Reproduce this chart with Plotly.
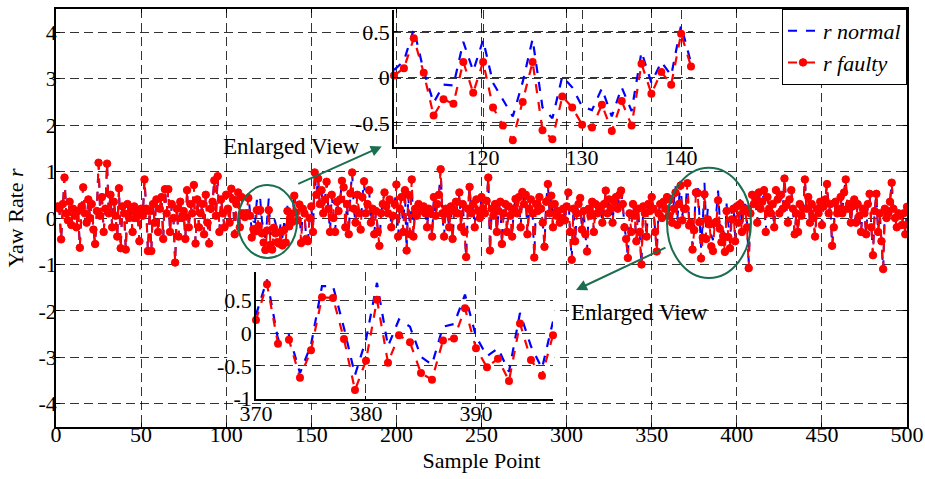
import plotly.graph_objects as go

FONT = "Liberation Serif"
GREEN = "#1b6e4e"

# ---------------- data ----------------
x_tick_vals = [0, 50, 100, 150, 200, 250, 300, 350, 400, 450, 500]
y_tick_vals = [-4, -3, -2, -1, 0, 1, 2, 3, 4]
y_tick_text = ["-4", "-3", "-2", "-1", "0", "1", "2", "3", "4"]
inset1_x_ticks = [120, 130, 140]
inset1_y_vals = [-0.5, 0, 0.5]
inset1_y_text = ["-0.5", "0", "0.5"]
inset2_x_ticks = [370, 380, 390]
inset2_y_vals = [-1, -0.5, 0, 0.5]
inset2_y_text = ["-1", "-0.5", "0", "0.5"]

r_faulty = [
    0.25, 0.2, -0.46, 0.3, 0.87, 0.1, -0.05, 0.35, -0.15, 0.2, 0.05, -0.2, 0.15, -0.64, 0.25, 0.66, 0.1, -0.1, 0.4, 0.0,
    0.3, -0.25, -0.56, 0.15, 1.19, 0.05, 0.45, -0.3, 0.2, 1.17, 0.1, 0.5, -0.2, 0.35, 0.05, -0.4, 0.64, -0.65, 0.25, 0.1,
    -0.68, 0.3, 0.0, 0.15, -0.3, 0.25, 0.0, 0.1, -0.5, 0.2, 0.05, 0.83, 0.2, -0.71, 0.15, -0.71, 0.3, -0.1, 0.4, -0.3,
    0.2, 0.45, -0.45, 0.62, 0.1, 0.62, -0.3, 0.3, 0.0, -0.96, 0.2, -0.4, 0.35, 0.0, 0.15, -0.45, 0.6, -0.2, 0.3, 0.1,
    0.71, -0.55, 0.4, -0.2, 0.1, 0.3, -0.35, 0.5, -0.1, -0.55, 0.2, 0.35, 0.81, 0.05, 0.9, -0.3, 0.4, 0.1, -0.2, 0.5,
    0.2, -0.1, 0.63, 0.4, -0.35, 0.3, 0.55, -0.2, 0.45, 0.1,
    0.02, 0.10, 0.43, 0.05, -0.42, -0.24, -0.29, 0.17, -0.17, 0.17,
    -0.33, -0.53, -0.69, -0.27, 0.17, -0.58, -0.68, -0.21, -0.33, -0.52,
    -0.55, -0.30, -0.59, -0.26, -0.53, 0.15, -0.18, 0.06, -0.08, 0.48,
    0.12, -0.05,
    0.29, -0.54, 0.2, 0.1, -0.45, -0.5, 0.0, 0.25, -0.3, 0.98, 0.5, 0.85, 0.3, 0.6, 0.1, 0.4, 0.78, 0.2,
    -0.3, 0.5, 0.0, -0.3, 0.35, 0.15, 0.4, 0.8, 0.66, -0.2, 0.3, -0.35, 0.53, 0.98, 0.2, -0.1, 0.5, 0.1, -0.25, 0.45,
    0.79, 0.1, 0.3, 0.6, -0.1, 0.2, -0.35, 0.15, -0.3, -0.6, 0.1, 0.3, 0.55, 0.25, 0.1, 0.4, -0.2, 0.05, 0.3, 0.72,
    -0.4, 0.2, 0.45, -0.3, 0.6, -0.7, 0.5, -0.35, 0.83, -0.4, 0.2, 0.05, 0.3, 0.21, 0.15, 0.25, 0.1, -0.2, 0.2, 0.1,
    -0.4, 0.45, 0.05, 0.3, 0.5, 1.05, 0.1, -0.4, 0.2, 0.1, -0.2, 0.25, -0.45, 0.15, 0.35, 0.1, 0.55, -0.2, 0.3, -0.3,
    -0.84, 0.2, 0.67, 0.1, 0.3, -0.2, 0.4, 0.15, 0.0, 0.45, 0.2, 0.1, 0.37, 0.87, -0.7, 0.2, 0.05, 0.3, -0.3, 0.15,
    0.35, -0.56, 0.1, 0.3, -0.3, 0.25, 0.05, -0.4, 0.2, 0.41, 0.1, 0.45, -0.2, 0.56, 0.3, 0.5, -0.35, 0.2, 0.4, 0.1,
    -0.85, 0.3, 0.15, 0.45, 0.2, -0.1, -0.62, 0.35, 0.73, 0.1, 0.48, -0.2, 0.3, 0.05, 0.15, -0.1, 0.0, 0.2, -0.05, 0.25,
    0.55, -0.3, -0.9, 0.2, -0.5, 0.1, 0.3, 0.43, -0.25, 0.15, -0.35, -0.72, 0.2, 0.05, 0.35, -0.3, 0.3, 0.1, 0.25, 0.2,
    -0.1, 0.3, 0.59, 0.1, 0.4, 0.2, -0.1, 0.35, 0.45, 0.2, 0.5, 0.59, 0.3, -0.2, -0.45, -0.86, 0.1, -0.3, 0.3, 0.05,
    -0.5, 0.2, -0.3, -1.0, 0.25, 0.1, -0.4, 0.3, 0.15, 0.45, 0.2, -0.3, -0.72, 0.1, 0.3, 0.0, 0.35, 0.2, 0.45, 0.05,
    0.4, -0.1, 0.2, 0.55, -0.15, 0.3, 0.7, -0.05, 0.2,
    0.20, 0.75, -0.16, -0.10, -0.68, -0.26, 0.55, 0.54, -0.09, -0.87,
    -0.42, 0.51, -0.45, -0.03, -0.14, -0.61, -0.71, -0.11, -0.08, 0.38,
    -0.23, -0.52, -0.39, -0.73, 0.15, -0.41, -0.65, -0.03,
    0.2, -0.5, 0.25, -0.1, 0.3, -0.3, 0.15, 0.2, -0.2, -1.08, 0.1, 0.5, 0.3, 0.4, -0.1, 0.55, 0.2, 0.35, 0.6, -0.3, 0.45, 0.2, 0.1,
    0.3, -0.2, 0.6, 0.4, 0.1, 0.5, 0.2, 0.85, 0.3, -0.1, 0.4, 0.6, 0.2, -0.35, 0.1, -0.3, 0.3, 0.05, 0.2, 0.83,
    0.2, 0.45, -0.1, 0.3, 0.0, -0.4, 0.2, 0.1, 0.35, -0.15, 0.25, 0.4, 0.73, 0.1, 0.3, -0.6, -0.2, 0.35, 0.1, 0.2,
    0.45, 0.1, 0.55, 0.83, 0.2, 0.3, -0.1, 0.25, 0.4, -0.1, 0.3, 0.05, -0.3, 0.2, 0.1, -0.35, 0.3, 0.52, -0.2, -0.8,
    0.15, 0.52, -0.3, 0.1, -0.5, -1.1, 0.2, 0.0, 0.1, 0.35, 0.76, 0.2, 0.0, -0.2, 0.1, 0.05, -0.15, 0.1, -0.35, 0.24,
]

# normal signal read where it separates from the faulty one (samples 111-142 and 360-408)
normal_seg_a = [
    0.08, 0.18, 0.53, 0.07, -0.28, -0.08, -0.09, 0.39, 0.07, 0.41,
    -0.06, -0.25, -0.43, -0.05, 0.42, -0.33, -0.45, 0.01, -0.11, -0.32,
    -0.36, -0.12, -0.43, -0.11, -0.37, 0.28, -0.06, 0.17, 0.02, 0.57,
    0.16, -0.02,
]
normal_seg_b = [
    0.12, 0.5, 0.0, 0.3, 0.68, -0.05, 0.42, 0.8, 0.05, 0.3,
    0.28, 0.82, -0.09, -0.03, -0.61, -0.18, 0.72, 0.72, 0.08, -0.64,
    -0.10, 0.77, -0.20, 0.21, 0.10, -0.36, -0.48, 0.10, 0.14, 0.59,
    -0.05, -0.35, -0.23, -0.59, 0.31, -0.20, -0.54, 0.18,
    0.3, -0.4, 0.35, 0.0, 0.4, -0.2, 0.25, 0.3, -0.1, -0.95, 0.2,
]
r_normal = r_faulty[:110] + normal_seg_a + r_faulty[142:359] + normal_seg_b + r_faulty[408:]
samples = list(range(1, len(r_faulty) + 1))

# ---------------- figure ----------------
fig = go.Figure()
blue = "#0000ff"
red = "#ff0000"
FS = 22

fig.add_trace(go.Scatter(x=samples, y=r_normal, mode="lines", name="<i>r normal</i>",
                         line=dict(color=blue, width=2, dash="dash")))
fig.add_trace(go.Scatter(x=samples, y=r_faulty, mode="lines+markers", name="<i>r faulty</i>",
                         line=dict(color=red, width=2, dash="dash"),
                         marker=dict(color=red, size=7.5, symbol="circle", line=dict(color=red, width=1))))

# inset 1 (samples 111-141)
s1 = slice(110, 141)
fig.add_trace(go.Scatter(x=samples[s1], y=r_normal[s1], mode="lines", showlegend=False,
                         line=dict(color=blue, width=2.2, dash="dash"), xaxis="x2", yaxis="y2",
                         cliponaxis=False))
fig.add_trace(go.Scatter(x=samples[s1], y=r_faulty[s1], mode="lines+markers", showlegend=False,
                         line=dict(color=red, width=2.2, dash="dash"),
                         marker=dict(color=red, size=8), xaxis="x2", yaxis="y2", cliponaxis=False))
# inset 2 (samples 370-397)
s2 = slice(369, 397)
fig.add_trace(go.Scatter(x=samples[s2], y=r_normal[s2], mode="lines", showlegend=False,
                         line=dict(color=blue, width=2.2, dash="dash"), xaxis="x3", yaxis="y3",
                         cliponaxis=False))
fig.add_trace(go.Scatter(x=samples[s2], y=r_faulty[s2], mode="lines+markers", showlegend=False,
                         line=dict(color=red, width=2.2, dash="dash"),
                         marker=dict(color=red, size=8), xaxis="x3", yaxis="y3", cliponaxis=False))


def grid(standoff, size=FS):
    return dict(showgrid=True, gridcolor="rgba(0,0,0,0.8)", gridwidth=1, griddash="9px,5px",
                zeroline=False, ticks="inside", ticklen=4, tickcolor="black", automargin=False,
                ticklabelstandoff=standoff,
                tickfont=dict(family=FONT, size=size, color="black"))


fig.update_layout(
    width=925, height=479,
    margin=dict(l=56, r=18, t=9, b=52),
    paper_bgcolor="white",
    plot_bgcolor="rgba(0,0,0,0)",
    font=dict(family=FONT, size=FS, color="black"),
    showlegend=True,
    legend=dict(x=1, y=1, xanchor="right", yanchor="top", bgcolor="white",
                bordercolor="black", borderwidth=1, itemwidth=30,
                font=dict(family=FONT, size=22, color="black"),
                tracegroupgap=0),
    xaxis=dict(range=[0, 500], tickvals=x_tick_vals, showline=True, linecolor="black",
               linewidth=1.5, mirror="ticks",
               title=dict(text="Sample Point", font=dict(family=FONT, size=FS), standoff=6),
               **grid(-13)),
    yaxis=dict(range=[-4.5, 4.5], tickvals=y_tick_vals, ticktext=y_tick_text, showline=True,
               linecolor="black", linewidth=1.5, mirror="ticks",
               title=dict(text="Yaw Rate <i>r</i>", font=dict(family=FONT, size=FS), standoff=9),
               **grid(-7)),
    xaxis2=dict(domain=[0.3972, 0.7485], anchor="y2", range=[111, 141.2], tickvals=inset1_x_ticks,
                showline=True, linecolor="black", linewidth=1.5, mirror=False, **grid(-10)),
    yaxis2=dict(domain=[0.6699, 0.9976], anchor="x2", range=[-0.765, 0.74], tickvals=inset1_y_vals,
                ticktext=inset1_y_text, showline=True, linecolor="black", linewidth=1.5,
                mirror=False, **grid(-2)),
    xaxis3=dict(domain=[0.2350, 0.5840], anchor="y3", range=[370, 397], tickvals=inset2_x_ticks,
                showline=True, linecolor="black", linewidth=1.5, mirror=False, **grid(-6)),
    yaxis3=dict(domain=[0.0663, 0.3715], anchor="x3", range=[-1.01, 0.94], tickvals=inset2_y_vals,
                ticktext=inset2_y_text, showline=True, linecolor="black", linewidth=1.5,
                mirror=False, **grid(-2)),
)

# white backing of the lower inset (covers main grid only, under traces)
fig.add_shape(type="rect", xref="x", yref="y", x0=100.6, x1=293, y0=-3.98, y1=-1.1,
              fillcolor="white", line=dict(width=0), layer="between")

# ellipses
fig.add_shape(type="circle", xref="x", yref="y", x0=106.9, x1=141.6, y0=-0.86, y1=0.71,
              line=dict(color=GREEN, width=2), layer="above")
fig.add_shape(type="circle", xref="x", yref="y", x0=359, x1=408.3, y0=-1.29, y1=1.08,
              line=dict(color=GREEN, width=2), layer="above")

# arrows
fig.add_annotation(x=191.4, y=1.54, xref="x", yref="y", ax=-85, ay=38, text="",
                   showarrow=True, arrowhead=2, arrowsize=1.1, arrowwidth=2, arrowcolor=GREEN)
fig.add_annotation(x=305.5, y=-1.55, xref="x", yref="y", ax=91, ay=-43, text="",
                   showarrow=True, arrowhead=2, arrowsize=1.1, arrowwidth=2, arrowcolor=GREEN)
# labels
fig.add_annotation(x=138.1, y=1.53, xref="x", yref="y", text="Enlarged View", showarrow=False,
                   font=dict(family=FONT, size=23, color="black"))
fig.add_annotation(x=343.1, y=-2.03, xref="x", yref="y", text="Enlarged View", showarrow=False,
                   font=dict(family=FONT, size=23, color="black"))

fig.write_html("out.html")
